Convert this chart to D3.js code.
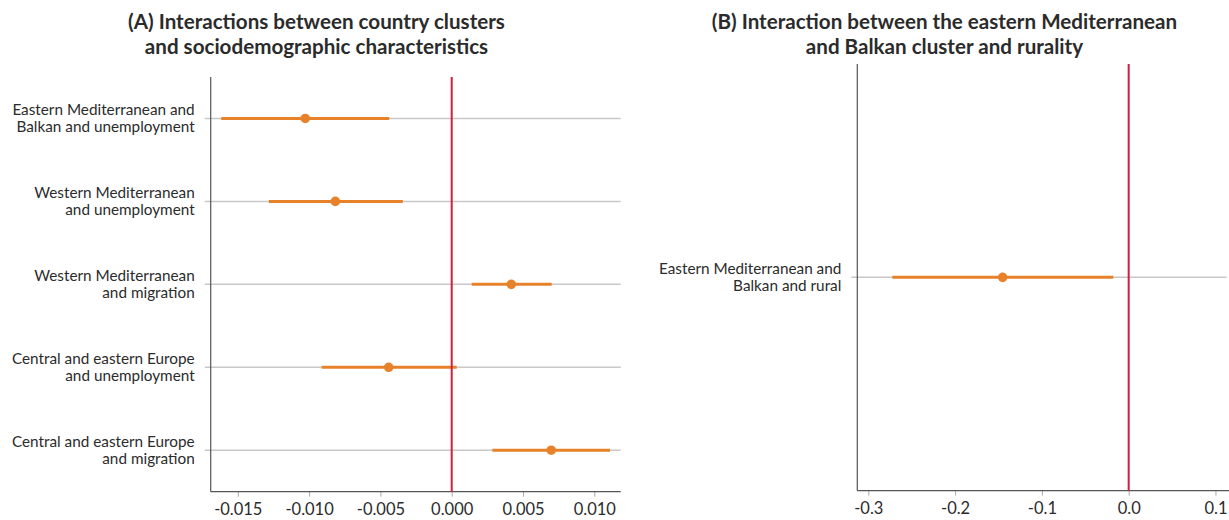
<!DOCTYPE html>
<html>
<head>
<meta charset="utf-8">
<script src="https://cdn.jsdelivr.net/npm/d3@7"></script>
<style>
  html, body { margin: 0; padding: 0; background: #fff; }
  svg { display: block; font-family: Lato, "Noto Sans", sans-serif; }
</style>
</head>
<body>
<svg id="chart" width="1229" height="520"></svg>
<script>
// Panel A: interaction terms between country clusters and sociodemographics
const termsA = [
  ["Eastern Mediterranean and", "Balkan and unemployment"],
  ["Western Mediterranean", "and unemployment"],
  ["Western Mediterranean", "and migration"],
  ["Central and eastern Europe", "and unemployment"],
  ["Central and eastern Europe", "and migration"]
];
const estA   = [-0.01027, -0.00816, 0.00418, -0.00442, 0.00698];
const lowerA = [-0.01616, -0.01282, 0.00140, -0.00912, 0.00285];
const upperA = [-0.00438, -0.00343, 0.00701, 0.00035, 0.01110];
const ticksA = [-0.015, -0.010, -0.005, 0.000, 0.005, 0.010];

// Panel B: eastern Mediterranean and Balkan cluster x rurality
const termsB = [["Eastern Mediterranean and", "Balkan and rural"]];
const estB   = [-0.1452];
const lowerB = [-0.2723];
const upperB = [-0.0177];
const ticksB = [-0.3, -0.2, -0.1, 0.0, 0.1];

const svg = d3.select("#chart");
const orange = "#e8822a";
const red = "#d21f3c";
const grid = "#c8c8c8";
const axisCol = "#555";
const textCol = "#2b2b2b";

function panel(cfg) {
  const g = svg.append("g");
  const x = d3.scaleLinear().domain(cfg.domain).range([cfg.left, cfg.right]);
  const y = d3.scalePoint().domain(d3.range(cfg.terms.length))
    .range([cfg.top, cfg.bottom]).padding(0.5);

  // title
  const title = g.append("text")
    .attr("x", cfg.titleX).attr("y", 29)
    .attr("text-anchor", "middle")
    .attr("fill", textCol)
    .style("font-size", "20.6px").style("font-weight", "700");
  cfg.title.forEach((t, i) => {
    title.append("tspan").attr("x", cfg.titleX).attr("dy", i === 0 ? 0 : 25).text(t);
  });

  // horizontal guide lines per term
  g.selectAll(".grid").data(cfg.terms).join("line")
    .attr("x1", cfg.left - 6).attr("x2", cfg.gridRight)
    .attr("y1", (d, i) => y(i)).attr("y2", (d, i) => y(i))
    .attr("stroke", grid).attr("stroke-width", 1.5);

  // term labels
  g.selectAll(".lab").data(cfg.terms).join("text")
    .attr("text-anchor", "end")
    .attr("fill", textCol)
    .style("font-size", "15.3px")
    .each(function (d, i) {
      const t = d3.select(this);
      d.forEach((line, j) => {
        t.append("tspan").attr("x", cfg.left - 16)
          .attr("y", y(i) + (j === 0 ? -3 : 14)).text(line);
      });
    });

  // x axis
  const fmt = v => d3.format(cfg.fmt)(v).replace("\u2212", "-");
  const ax = g.append("g").attr("transform", `translate(0,${cfg.bottom})`)
    .call(d3.axisBottom(x).tickValues(cfg.ticks).tickFormat(fmt).tickSize(5).tickSizeOuter(0).tickPadding(7));
  ax.select(".domain").remove();
  ax.selectAll(".tick line").attr("stroke", "#aaa");
  ax.selectAll(".tick text").attr("fill", textCol).style("font-size", "16.5px")
    .style("font-family", "Lato, 'Noto Sans', sans-serif");

  // axis frame lines
  g.append("line").attr("x1", cfg.left).attr("x2", cfg.left)
    .attr("y1", cfg.top).attr("y2", cfg.bottom)
    .attr("stroke", axisCol).attr("stroke-width", 1.2);
  g.append("line").attr("x1", cfg.left).attr("x2", cfg.right)
    .attr("y1", cfg.bottom).attr("y2", cfg.bottom)
    .attr("stroke", axisCol).attr("stroke-width", 1.2);

  // confidence intervals
  g.selectAll(".ci").data(cfg.est).join("line")
    .attr("x1", (d, i) => x(cfg.lower[i])).attr("x2", (d, i) => x(cfg.upper[i]))
    .attr("y1", (d, i) => y(i)).attr("y2", (d, i) => y(i))
    .attr("stroke", orange).attr("stroke-width", 3);

  // zero reference line
  g.append("line").attr("x1", x(0)).attr("x2", x(0))
    .attr("y1", cfg.top).attr("y2", cfg.bottom)
    .attr("stroke", red).attr("stroke-width", 2);

  // point estimates
  g.selectAll(".pt").data(cfg.est).join("circle")
    .attr("cx", d => x(d)).attr("cy", (d, i) => y(i))
    .attr("r", 4.8).attr("fill", orange);
}

panel({
  terms: termsA, est: estA, lower: lowerA, upper: upperA, ticks: ticksA,
  domain: [-0.0169, 0.01185], left: 210.7, right: 620.7, gridRight: 620.7,
  top: 77, bottom: 491.7, fmt: ".3f", titleX: 316.5,
  title: ["(A) Interactions between country clusters", "and sociodemographic characteristics"]
});

panel({
  terms: termsB, est: estB, lower: lowerB, upper: upperB, ticks: ticksB,
  domain: [-0.3127, 0.1156], left: 857.3, right: 1229, gridRight: 1226.5,
  top: 64, bottom: 490.7, fmt: ".1f", titleX: 944.5,
  title: ["(B) Interaction between the eastern Mediterranean", "and Balkan cluster and rurality"]
});
</script>
</body>
</html>
